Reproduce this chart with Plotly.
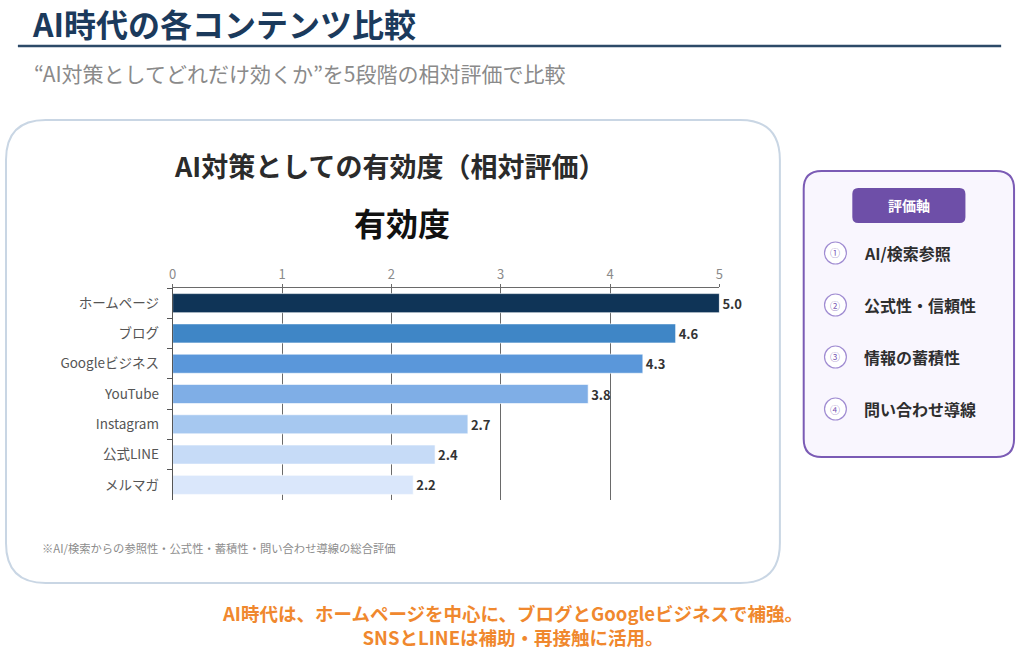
import plotly.graph_objects as go

W, H = 1024, 658
FONT = "Noto Sans CJK JP"

channels = ['ホームページ', 'ブログ', 'Googleビジネス', 'YouTube', 'Instagram', '公式LINE', 'メルマガ']
scores = [5.0, 4.6, 4.3, 3.8, 2.7, 2.4, 2.2]
bar_colors = ['#0F3457', '#3F86C6', '#5A97DA', '#7FAEE6', '#A6C8F0', '#C6DBF7', '#DAE7FB']
axis_items = ['AI/検索参照', '公式性・信頼性', '情報の蓄積性', '問い合わせ導線']
axis_marks = ['①', '②', '③', '④']


def px(x):
    return x / W


def py(y):
    return 1 - y / H


def rounded_rect(x0, y0, x1, y1, r):
    # pixel coords -> paper path
    X0, X1 = px(x0), px(x1)
    Y0, Y1 = py(y0), py(y1)
    rx, ry = r / W, r / H
    return (f"M {X0 + rx},{Y0} L {X1 - rx},{Y0} Q {X1},{Y0} {X1},{Y0 - ry} "
            f"L {X1},{Y1 + ry} Q {X1},{Y1} {X1 - rx},{Y1} L {X0 + rx},{Y1} "
            f"Q {X0},{Y1} {X0},{Y1 + ry} L {X0},{Y0 - ry} Q {X0},{Y0} {X0 + rx},{Y0} Z")


fig = go.Figure()
fig.add_trace(go.Bar(
    x=scores, y=channels, orientation='h',
    marker=dict(color=bar_colors, line=dict(color='rgba(255,255,255,0.6)', width=1)),
    texttemplate='%{x:.1f}', textposition='outside', cliponaxis=False,
    textfont=dict(family=FONT, size=13, color='#333333', weight='bold'),
    hoverinfo='skip',
))

shapes = []
# header rule
shapes.append(dict(type='line', xref='paper', yref='paper', x0=px(14), x1=px(1005), y0=py(46), y1=py(46),
                   line=dict(color='#2C4A68', width=2.5)))
# chart card
shapes.append(dict(type='path', xref='paper', yref='paper', path=rounded_rect(2, 120, 782, 583, 40),
                   line=dict(color='#C9D6E4', width=2), fillcolor='white', layer='below'))
# right panel
shapes.append(dict(type='path', xref='paper', yref='paper', path=rounded_rect(806, 171, 1018, 457, 18),
                   line=dict(color='#7B5BB5', width=2), fillcolor='#F9F6FE', layer='below'))
shapes.append(dict(type='path', xref='paper', yref='paper', path=rounded_rect(855, 188, 969, 223, 6),
                   line=dict(width=0), fillcolor='#6E4FA8', layer='below'))

annotations = [
    dict(text='<b>AI時代の各コンテンツ比較</b>', x=px(26), y=py(23), xanchor='left', yanchor='middle',
         font=dict(family=FONT, size=32, color='#1B3A5C')),
    dict(text='“AI対策としてどれだけ効くか”を5段階の相対評価で比較', x=px(28), y=py(73), xanchor='left',
         yanchor='middle', font=dict(family=FONT, size=21, color='#8A8A8A')),
    dict(text='<b>AI対策としての有効度（相対評価）</b>', x=px(389), y=py(165), xanchor='center', yanchor='middle',
         font=dict(family=FONT, size=27, color='#2B2B2B')),
    dict(text='<b>有効度</b>', x=px(401), y=py(222), xanchor='center', yanchor='middle',
         font=dict(family=FONT, size=32, color='#111111')),
    dict(text='※AI/検索からの参照性・公式性・蓄積性・問い合わせ導線の総合評価', x=px(36), y=py(548),
         xanchor='left', yanchor='middle', font=dict(family=FONT, size=11.3, color='#8C8C8C')),
    dict(text='<b>評価軸</b>', x=px(912), y=py(205), xanchor='center', yanchor='middle',
         font=dict(family=FONT, size=14, color='white')),
    dict(text='<b>AI時代は、ホームページを中心に、ブログとGoogleビジネスで補強。<br>SNSとLINEは補助・再接触に活用。</b>',
         x=px(513), y=py(625), xanchor='center', yanchor='middle', align='center',
         font=dict(family=FONT, size=18.5, color='#F0882E')),
]

for i, (mark, item) in enumerate(zip(axis_marks, axis_items)):
    cy = 253 + i * 52
    shapes.append(dict(type='circle', xref='paper', yref='paper', x0=px(827), x1=px(849), y0=py(cy - 11),
                       y1=py(cy + 11), line=dict(color='#A08CD2', width=1.2), fillcolor='white', layer='below'))
    annotations.append(dict(text=mark, x=px(838), y=py(cy), xanchor='center', yanchor='middle',
                            font=dict(family=FONT, size=10, color='#7B5BB5')))
    annotations.append(dict(text=f'<b>{item}</b>', x=px(865), y=py(cy), xanchor='left', yanchor='middle',
                            font=dict(family=FONT, size=16, color='#2E2E2E')))

for a in annotations:
    a.update(xref='paper', yref='paper', showarrow=False)

fig.update_layout(
    width=W, height=H, margin=dict(l=0, r=0, t=0, b=0),
    paper_bgcolor='white', plot_bgcolor='rgba(0,0,0,0)',
    showlegend=False, bargap=0.37,
    shapes=shapes, annotations=annotations,
    xaxis=dict(domain=[px(170), px(721)], range=[0, 5], side='top', dtick=1,
               showgrid=True, gridcolor='#6A6A6A', gridwidth=1,
               showline=True, linecolor='#6A6A6A', linewidth=1,
               ticks='outside', ticklen=3, tickcolor='#6A6A6A',
               tickfont=dict(family=FONT, size=13, color='#8A8A8A'), zeroline=False),
    yaxis=dict(domain=[py(500), py(288)], autorange='reversed',
               showline=True, linecolor='#555555', linewidth=1,
               ticks='outside', ticklen=5, tickcolor='#555555', tickson='boundaries',
               tickfont=dict(family=FONT, size=13.5, color='#555555'), ticklabelstandoff=10),
)

fig.write_html("out.html", config={'displayModeBar': False},
               post_script="document.body.style.margin='0';document.body.style.overflow='hidden';")
